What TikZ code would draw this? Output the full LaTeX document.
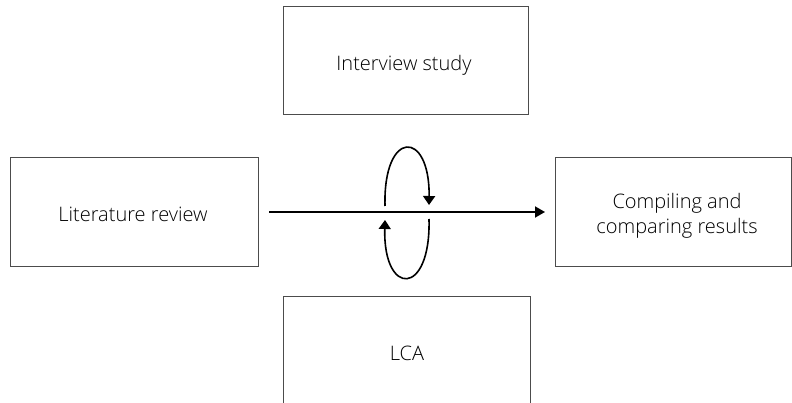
\documentclass[tikz,border=0pt]{standalone}
\usepackage{fontspec}
\setmainfont{Open Sans}[UprightFont=* Light]
\usetikzlibrary{arrows.meta}
\begin{document}
\begin{tikzpicture}[x=1pt,y=-1pt,
  lbl/.style={text=black,align=center,anchor=base,inner sep=0pt,font=\fontsize{20}{25}\selectfont},
  box/.style={draw=black!70,line width=1pt,fill=white},
  flow/.style={line width=1.8pt,-{Triangle[length=10pt,width=11pt]}},
  loopline/.style={line width=1.6pt,-{Triangle[length=9pt,width=12pt]}}]
\useasboundingbox (0,0) rectangle (792,403);
\begin{scope}
\clip (0,0) rectangle (792,403);
\node[box,minimum width=245pt,minimum height=108pt] (int) at (405.5,61) {};
\node[box,minimum width=247pt,minimum height=140pt] (lca) at (406.5,366) {};
\node[box,minimum width=248pt,minimum height=109pt] (lit) at (134,212.5) {};
\node[box,minimum width=236pt,minimum height=109pt] (comp) at (673,212.5) {};
\end{scope}
\node[lbl] (intt) at (404,71) {Interview study};
\node[lbl] (lcat) at (407,360) {LCA};
\node[lbl] (litt) at (133,222) {Literature review};
\node[lbl] (compt1) at (677,209) {Compiling and};
\node[lbl] (compt2) at (677,234) {comparing results};
\coordinate (a0) at (269,212);
\coordinate (a1) at (545,212);
\draw[flow] (a0) -- (a1);
\coordinate (u0) at (385,206);
\coordinate (u1) at (429,205);
\coordinate (l0) at (429,219);
\coordinate (l1) at (385,220);
\draw[loopline] (u0) .. controls (383,129) and (430,129) .. (u1);
\draw[loopline] (l0) .. controls (431,297) and (383,297) .. (l1);
\end{tikzpicture}
\end{document}
